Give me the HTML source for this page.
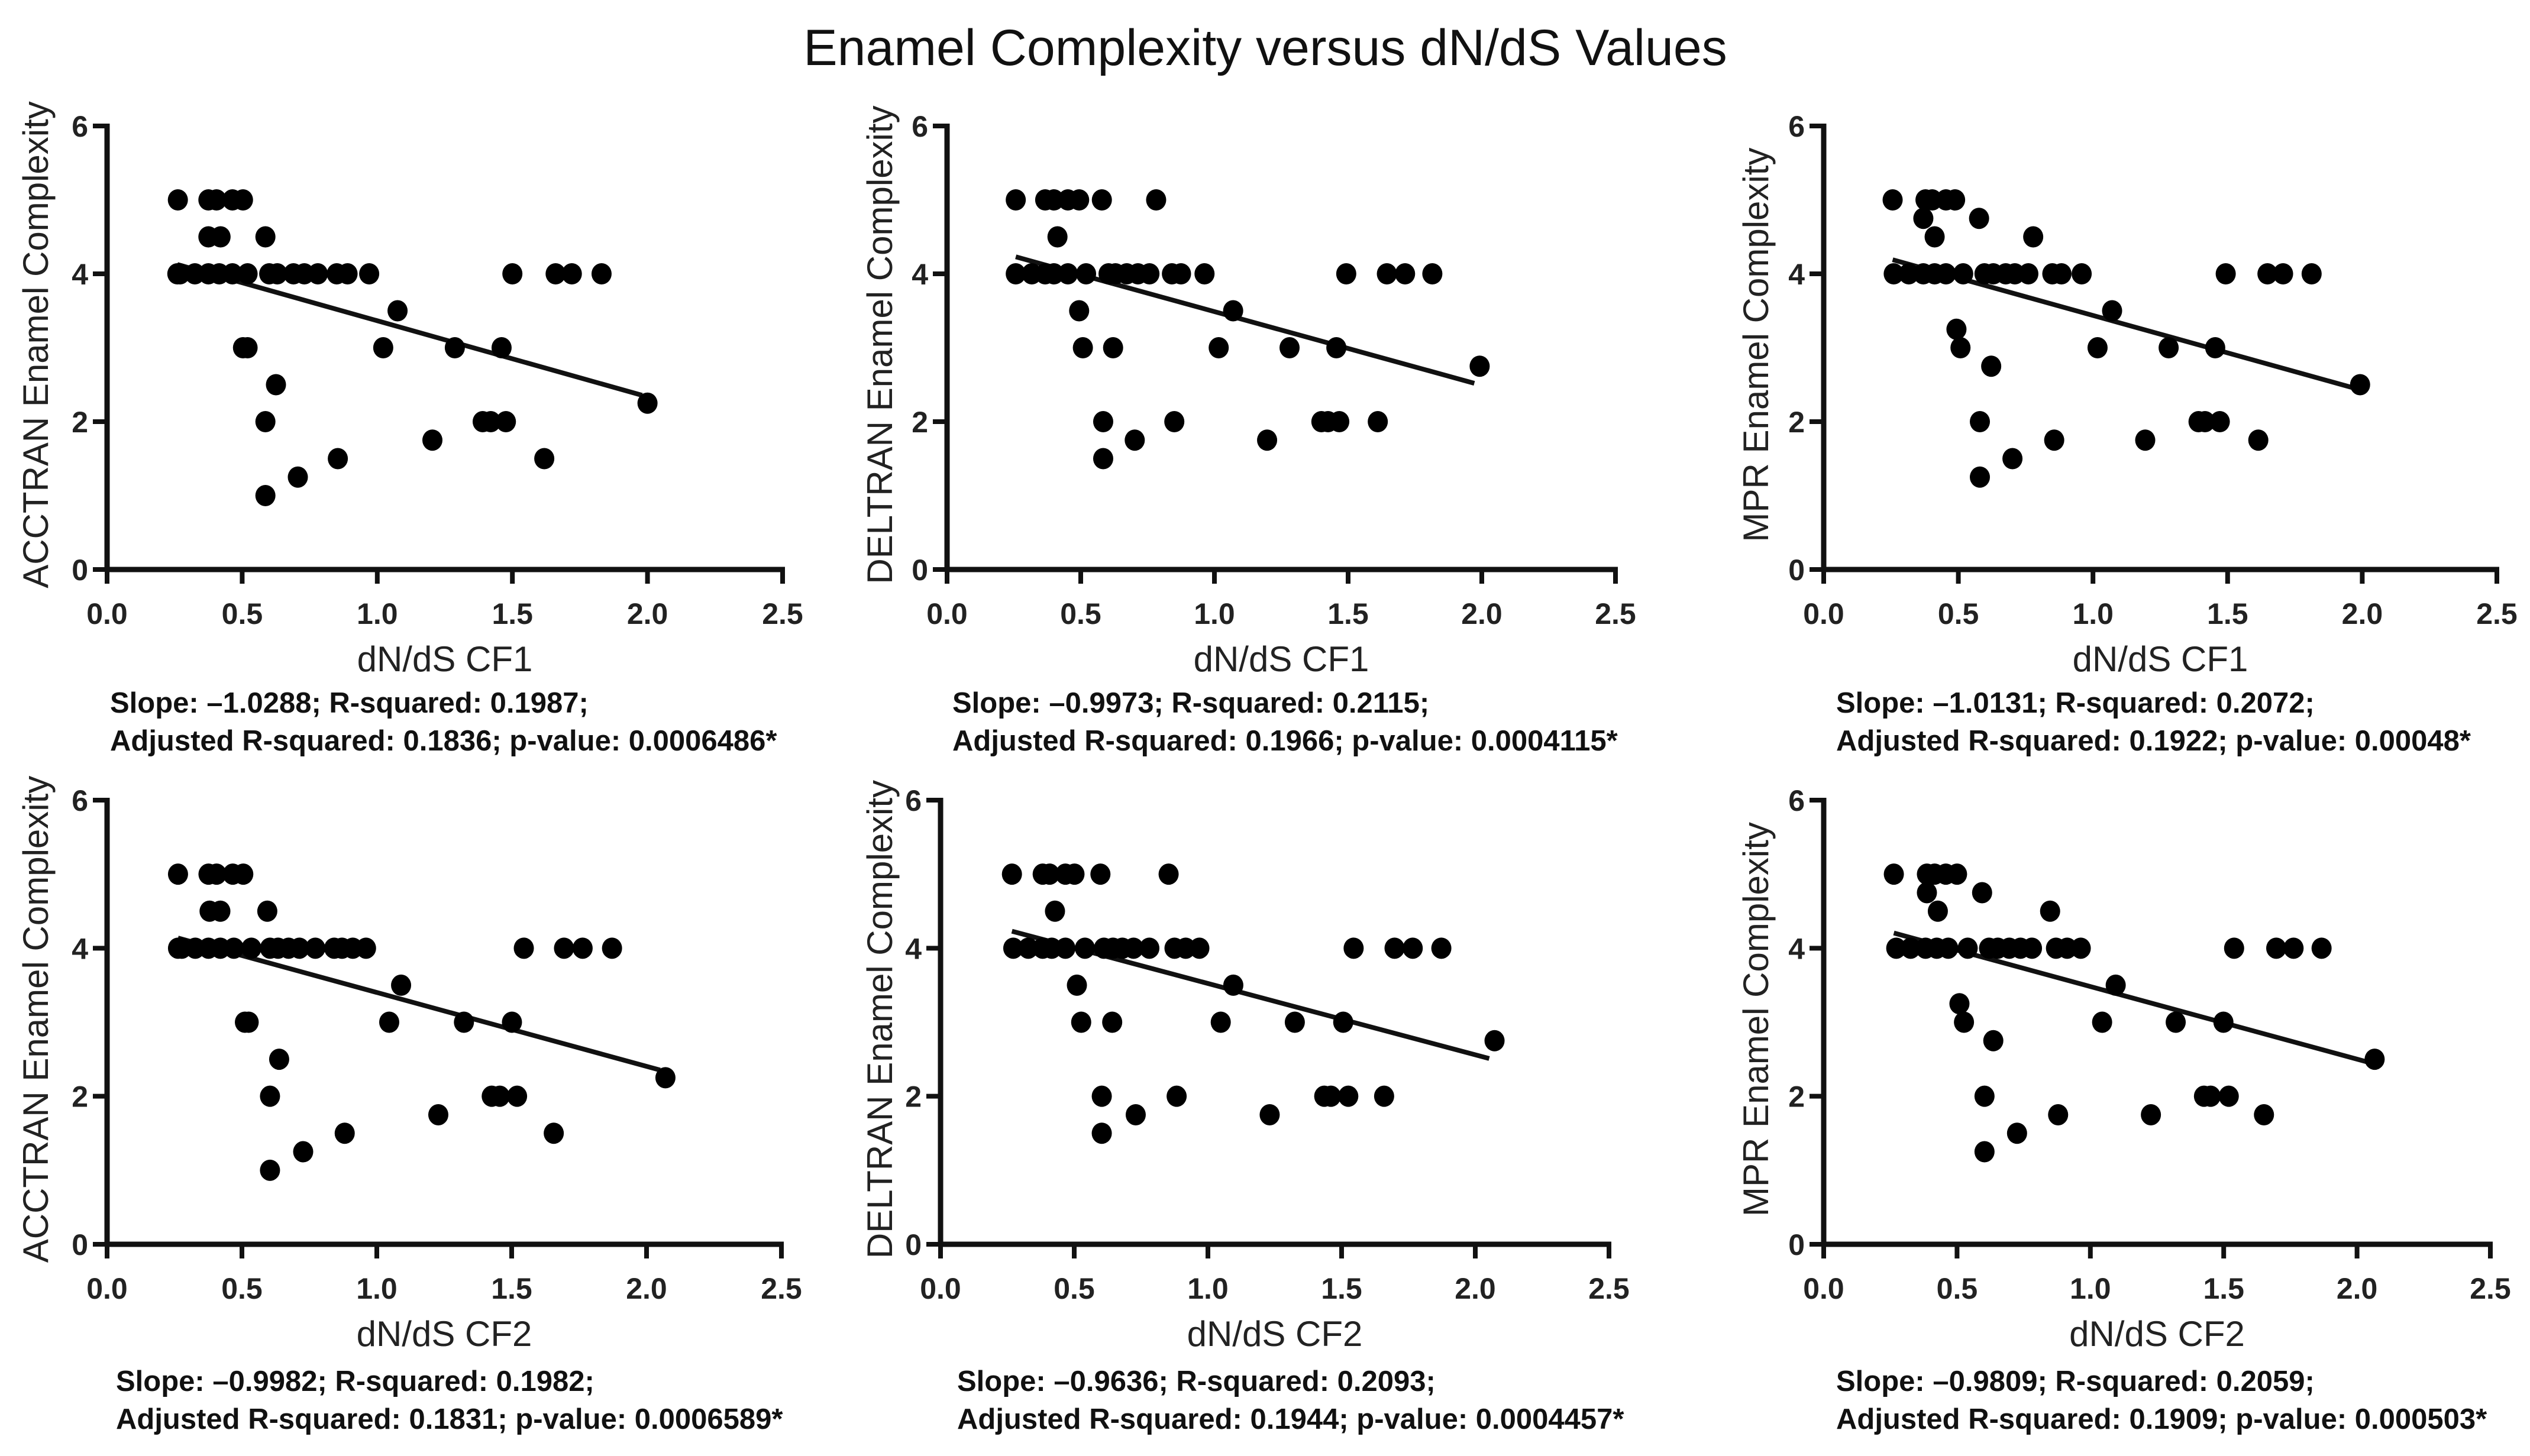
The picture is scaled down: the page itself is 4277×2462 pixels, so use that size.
<!DOCTYPE html>
<html><head><meta charset="utf-8"><style>
html,body{margin:0;padding:0;background:#fff;}
svg{display:block;font-family:"Liberation Sans",Arial,sans-serif;}
</style></head><body>
<svg id="fig" width="4277" height="2462" viewBox="0 0 4277 2462" xmlns="http://www.w3.org/2000/svg">
<rect width="4277" height="2462" fill="#fff"/>
<text x="2139" y="110" font-size="86" text-anchor="middle" fill="#111">Enamel Complexity versus dN/dS Values</text>
</svg>
<script>
// ---- data ----
const xTicks = ["0.0","0.5","1.0","1.5","2.0","2.5"];
const yTicks = ["0","2","4","6"];

const accCF1x = [0.262,0.375,0.405,0.464,0.503,0.375,0.42,0.586,0.26,0.27,0.325,0.375,0.415,0.464,0.52,0.60,0.63,0.69,0.73,0.78,0.85,0.89,0.97,1.5,1.66,1.72,1.83,0.503,0.52,0.625,0.586,0.586,0.706,0.854,1.075,1.022,1.287,1.46,1.204,1.39,1.42,1.476,1.618,2.0];
const accCF1y = [5,5,5,5,5,4.5,4.5,4.5,4,4,4,4,4,4,4,4,4,4,4,4,4,4,4,4,4,4,4,3,3,2.5,2,1,1.25,1.5,3.5,3,3,3,1.75,2,2,2,1.5,2.25];

const delCF1x = [0.257,0.367,0.40,0.452,0.494,0.579,0.782,0.413,0.257,0.317,0.367,0.40,0.452,0.52,0.604,0.63,0.672,0.714,0.757,0.841,0.875,0.963,1.493,1.645,1.713,1.815,0.494,1.07,0.508,0.621,1.016,1.281,1.456,1.992,0.584,0.85,1.40,1.425,1.467,1.611,0.702,1.197,0.584];
const delCF1y = [5,5,5,5,5,5,5,4.5,4,4,4,4,4,4,4,4,4,4,4,4,4,4,4,4,4,4,3.5,3.5,3,3,3,3,3,2.75,2,2,2,2,2,2,1.75,1.75,1.5];

const mprCF1x = [0.256,0.378,0.403,0.454,0.488,0.37,0.577,0.412,0.778,0.26,0.316,0.37,0.412,0.454,0.518,0.597,0.63,0.676,0.71,0.76,0.849,0.883,0.958,1.493,1.648,1.706,1.812,1.071,0.493,0.508,1.017,1.281,1.454,1.992,0.622,0.58,1.392,1.416,1.471,0.856,1.194,1.614,0.701,0.58];
const mprCF1y = [5,5,5,5,5,4.75,4.75,4.5,4.5,4,4,4,4,4,4,4,4,4,4,4,4,4,4,4,4,4,4,3.5,3.25,3,3,3,3,2.5,2.75,2,2,2,2,1.75,1.75,1.75,1.5,1.25];

const accCF2x = [0.263,0.376,0.406,0.466,0.505,0.38,0.42,0.594,0.263,0.277,0.327,0.376,0.42,0.47,0.535,0.604,0.634,0.673,0.713,0.772,0.842,0.871,0.911,0.96,1.545,1.694,1.763,1.872,0.511,0.525,0.638,0.604,0.604,0.727,0.881,1.09,1.046,1.323,1.501,1.228,1.426,1.456,1.52,1.656,2.07];
const accCF2y = [5,5,5,5,5,4.5,4.5,4.5,4,4,4,4,4,4,4,4,4,4,4,4,4,4,4,4,4,4,4,4,3,3,2.5,2,1,1.25,1.5,3.5,3,3,3,1.75,2,2,2,1.5,2.25];

const delCF2x = [0.267,0.382,0.408,0.467,0.501,0.598,0.853,0.428,0.272,0.328,0.382,0.416,0.467,0.54,0.611,0.645,0.68,0.722,0.781,0.875,0.917,0.968,1.545,1.698,1.766,1.873,0.51,1.095,0.526,0.642,1.048,1.325,1.506,2.072,0.603,0.883,1.435,1.46,1.525,1.659,0.73,1.231,0.603];
const delCF2y = [5,5,5,5,5,5,5,4.5,4,4,4,4,4,4,4,4,4,4,4,4,4,4,4,4,4,4,3.5,3.5,3,3,3,3,3,2.75,2,2,2,2,2,2,1.75,1.75,1.5];

const mprCF2x = [0.263,0.387,0.416,0.458,0.5,0.387,0.594,0.428,0.849,0.272,0.326,0.382,0.424,0.467,0.54,0.62,0.653,0.696,0.738,0.781,0.871,0.913,0.964,1.539,1.697,1.762,1.867,1.095,0.509,0.526,1.044,1.32,1.499,0.636,2.066,0.603,1.426,1.451,1.519,0.879,1.227,1.651,0.725,0.603];
const mprCF2y = [5,5,5,5,5,4.75,4.75,4.5,4.5,4,4,4,4,4,4,4,4,4,4,4,4,4,4,4,4,4,4,3.5,3.25,3,3,3,3,2.75,2.5,2,2,2,2,1.75,1.75,1.75,1.5,1.25];

const slopes = [-1.0288,-0.9973,-1.0131,-0.9982,-0.9636,-0.9809];
const intercepts = [4.394,4.486,4.45,4.40,4.487,4.463];
const yTitles = ["ACCTRAN Enamel Complexity","DELTRAN Enamel Complexity","MPR Enamel Complexity","ACCTRAN Enamel Complexity","DELTRAN Enamel Complexity","MPR Enamel Complexity"];
const xTitles = ["dN/dS CF1","dN/dS CF1","dN/dS CF1","dN/dS CF2","dN/dS CF2","dN/dS CF2"];
const stats1 = ["Slope: \u20131.0288; R-squared: 0.1987;","Slope: \u20130.9973; R-squared: 0.2115;","Slope: \u20131.0131; R-squared: 0.2072;","Slope: \u20130.9982; R-squared: 0.1982;","Slope: \u20130.9636; R-squared: 0.2093;","Slope: \u20130.9809; R-squared: 0.2059;"];
const stats2 = ["Adjusted R-squared: 0.1836; p-value: 0.0006486*","Adjusted R-squared: 0.1966; p-value: 0.0004115*","Adjusted R-squared: 0.1922; p-value: 0.00048*","Adjusted R-squared: 0.1831; p-value: 0.0006589*","Adjusted R-squared: 0.1944; p-value: 0.0004457*","Adjusted R-squared: 0.1909; p-value: 0.000503*"];

const panelsX = [accCF1x,delCF1x,mprCF1x,accCF2x,delCF2x,mprCF2x];
const panelsY = [accCF1y,delCF1y,mprCF1y,accCF2y,delCF2y,mprCF2y];

// ---- layout ----
const geo = [
 {x0:181,x1:1323,yTop:213,yBot:963,ytx:60,sx:186,sy:1205},
 {x0:1601,x1:2731,yTop:213,yBot:963,ytx:1487,sx:1610,sy:1205},
 {x0:3083,x1:4221,yTop:213,yBot:963,ytx:2968,sx:3104,sy:1205},
 {x0:181,x1:1321,yTop:1353,yBot:2104,ytx:60,sx:196,sy:2352},
 {x0:1590,x1:2720,yTop:1353,yBot:2104,ytx:1487,sx:1618,sy:2352},
 {x0:3083,x1:4210,yTop:1353,yBot:2104,ytx:2968,sx:3104,sy:2352}
];
const NS="http://www.w3.org/2000/svg";
const svg=document.getElementById('fig');
function mk(tag,attrs,parent){const e=document.createElementNS(NS,tag);for(const k in attrs)e.setAttribute(k,attrs[k]);(parent||svg).appendChild(e);return e;}

geo.forEach((g,p)=>{
  const sx=v=>g.x0+(v/2.5)*(g.x1-g.x0);
  const sy=v=>g.yBot-(v/6)*(g.yBot-g.yTop);
  const grp=mk('g',{});
  
  
  const ya=mk('line',{x1:g.x0,y1:g.yTop-4,x2:g.x0,y2:g.yBot+4,stroke:'#111','stroke-width':9},grp);
  
  
  const xa=mk('line',{x1:g.x0-4,y1:g.yBot,x2:g.x1+4,y2:g.yBot,stroke:'#111','stroke-width':9},grp);
  
  
  xTicks.forEach((t,i)=>{
    const v=i*0.5,x=sx(v);
    mk('line',{x1:x,y1:g.yBot,x2:x,y2:g.yBot+24,stroke:'#111','stroke-width':8},grp);
    const tx=mk('text',{x:x,y:g.yBot+92,'font-size':50,'font-weight':'bold','text-anchor':'middle',fill:'#222'},grp);
    tx.textContent=t;
    
    
  });
  yTicks.forEach((t,i)=>{
    const y=sy(i*2);
    mk('line',{x1:g.x0-24,y1:y,x2:g.x0,y2:y,stroke:'#111','stroke-width':8},grp);
    const tx=mk('text',{x:g.x0-32,y:y+18,'font-size':50,'font-weight':'bold','text-anchor':'end',fill:'#222'},grp);
    tx.textContent=t;
    
    
  });
  const xt=mk('text',{x:(g.x0+g.x1)/2,y:g.yBot+172,'font-size':60,'text-anchor':'middle',fill:'#222'},grp);
  xt.textContent=xTitles[p];
  
  
  const cy=(g.yTop+g.yBot)/2-5;
  const yt=mk('text',{x:g.ytx,y:cy,'font-size':60,'text-anchor':'middle',fill:'#222',transform:`rotate(-90 ${g.ytx} ${cy}) translate(0 21)`},grp);
  yt.textContent=yTitles[p];
  
  
  const xs=panelsX[p],ys=panelsY[p];
  const mn=Math.min(...xs),mx=Math.max(...xs);
  const rl=mk('line',{x1:sx(mn),y1:sy(intercepts[p]+slopes[p]*mn),x2:sx(mx-0.02),y2:sy(intercepts[p]+slopes[p]*(mx-0.02)),stroke:'#111','stroke-width':8},grp);
  
  
  xs.forEach((v,i)=>{
    const c=mk('ellipse',{cx:sx(v),cy:sy(ys[i]),rx:17,ry:18,fill:'#000'},grp);
    
    
  });
  const s1=mk('text',{x:g.sx,y:g.sy,'font-size':49,'font-weight':'bold',fill:'#111'},grp);
  s1.textContent=stats1[p];
  
  
  const s2=mk('text',{x:g.sx,y:g.sy+64,'font-size':49,'font-weight':'bold',fill:'#111'},grp);
  s2.textContent=stats2[p];
  
  
});
</script>
</body></html>
